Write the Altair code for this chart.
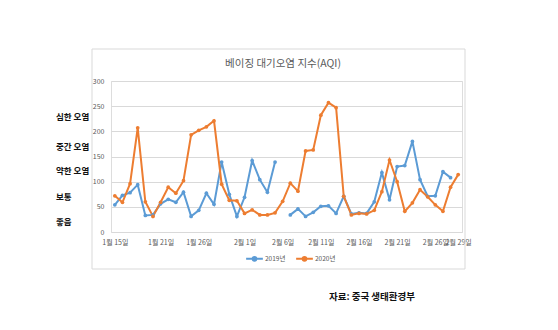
import altair as alt
import pandas as pd

dates = [f"1월 {d}일" for d in range(15, 32)] + [f"2월 {d}일" for d in range(1, 30)]
aqi_2019 = [54, 73, 78, 94, 33, 34, 56, 65, 59, 79, 31, 43, 77, 55, 139, 75, 31, 69, 142, 104,
            79, 139, None, 34, 46, 31, 39, 51, 52, 37, 71, 36, 38, 37, 60, 118, 64, 130, 132, 180,
            104, 71, 72, 120, 108, None]
aqi_2020 = [72, 59, 96, 207, 60, 31, 59, 89, 77, 102, 193, 202, 209, 221, 95, 63, 62, 37, 44, 34,
            34, 38, 61, 97, 81, 161, 163, 232, 257, 247, 71, 34, 37, 36, 43, 80, 143, 100, 41, 58,
            84, 70, 54, 41, 89, 114]
series = ["2019년", "2020년"]
colors = ["#5B9BD5", "#ED7D31"]
tick_labels = ["1월 15일", "1월 21일", "1월 26일", "2월 1일", "2월 6일", "2월 11일",
               "2월 16일", "2월 21일", "2월 26일", "2월 29일"]
levels = ["심한 오염", "중간 오염", "약한 오염", "보통", "좋음"]
title_text = "베이징 대기오염 지수(AQI)"
source_text = "자료: 중국 생태환경부"

rows = []
for name, vals in zip(series, [aqi_2019, aqi_2020]):
    for d, v in zip(dates, vals):
        rows.append({"date": d, "aqi": v, "series": name})
df = pd.DataFrame(rows)

FONT = "Noto Sans CJK KR"
W, H = 351, 151

frame = alt.Chart(pd.DataFrame({"a": [0]})).mark_rect(
    fill="transparent", stroke="#D9D9D9", strokeWidth=1
).encode(x=alt.value(-19), x2=alt.value(354), y=alt.value(-32), y2=alt.value(188))

lines = alt.Chart(df).mark_line(
    strokeWidth=2,
    invalid="break-paths-filter-domains",
    point=alt.OverlayMarkDef(filled=True, size=14),
).encode(
    x=alt.X("date:N", sort=dates, title=None,
            scale=alt.Scale(type="point", padding=0.5),
            axis=alt.Axis(values=tick_labels, labelAngle=0, labelOverlap=False,
                          ticks=False, domain=False, labelFontSize=7,
                          labelColor="#595959", labelFont=FONT, labelPadding=6)),
    y=alt.Y("aqi:Q", title=None,
            scale=alt.Scale(domain=[0, 300], nice=False),
            axis=alt.Axis(values=[0, 50, 100, 150, 200, 250, 300], ticks=False, domain=False,
                          gridColor="#D9D9D9", gridWidth=1, labelFontSize=7,
                          labelColor="#595959", labelFont=FONT, labelPadding=7)),
    color=alt.Color("series:N", scale=alt.Scale(domain=series, range=colors),
                    legend=alt.Legend(title=None, orient="none", legendX=134, legendY=168,
                                      direction="horizontal", labelFontSize=6.5,
                                      labelColor="#595959", labelFont=FONT,
                                      symbolType="M-1,0H1M0.22,0A0.22,0.22,0,1,1,-0.22,0A0.22,0.22,0,1,1,0.22,0",
                                      symbolSize=280, symbolStrokeWidth=2,
                                      columnPadding=6, labelOffset=1)),
)

title = alt.Chart(pd.DataFrame({"t": [title_text]})).mark_text(
    font=FONT, fontSize=10.5, color="#595959", align="center", baseline="middle"
).encode(text="t:N", x=alt.value(172), y=alt.value(-17))

lev = alt.Chart(pd.DataFrame({"t": levels, "k": list(range(len(levels)))})).mark_text(
    font=FONT, fontSize=8.5, fontWeight="bold", color="#111111", align="left", baseline="middle"
)
lev_layers = [
    lev.transform_filter(alt.datum.k == i).encode(text="t:N", x=alt.value(-55), y=alt.value(py))
    for i, py in enumerate([36, 66, 90, 116, 141])
]

source = alt.Chart(pd.DataFrame({"t": [source_text]})).mark_text(
    font=FONT, fontSize=9.5, fontWeight="bold", color="#111111", align="center", baseline="middle"
).encode(text="t:N", x=alt.value(261), y=alt.value(216))

chart = alt.layer(frame, lines, title, *lev_layers, source).properties(
    width=W, height=H,
    autosize=alt.AutoSizeParams(type="none"),
    padding={"left": 111, "top": 81, "right": 96, "bottom": 98},
).configure_view(stroke=None).configure(background="white")

chart.save("out.html", embed_options={"renderer": "svg", "actions": False})
